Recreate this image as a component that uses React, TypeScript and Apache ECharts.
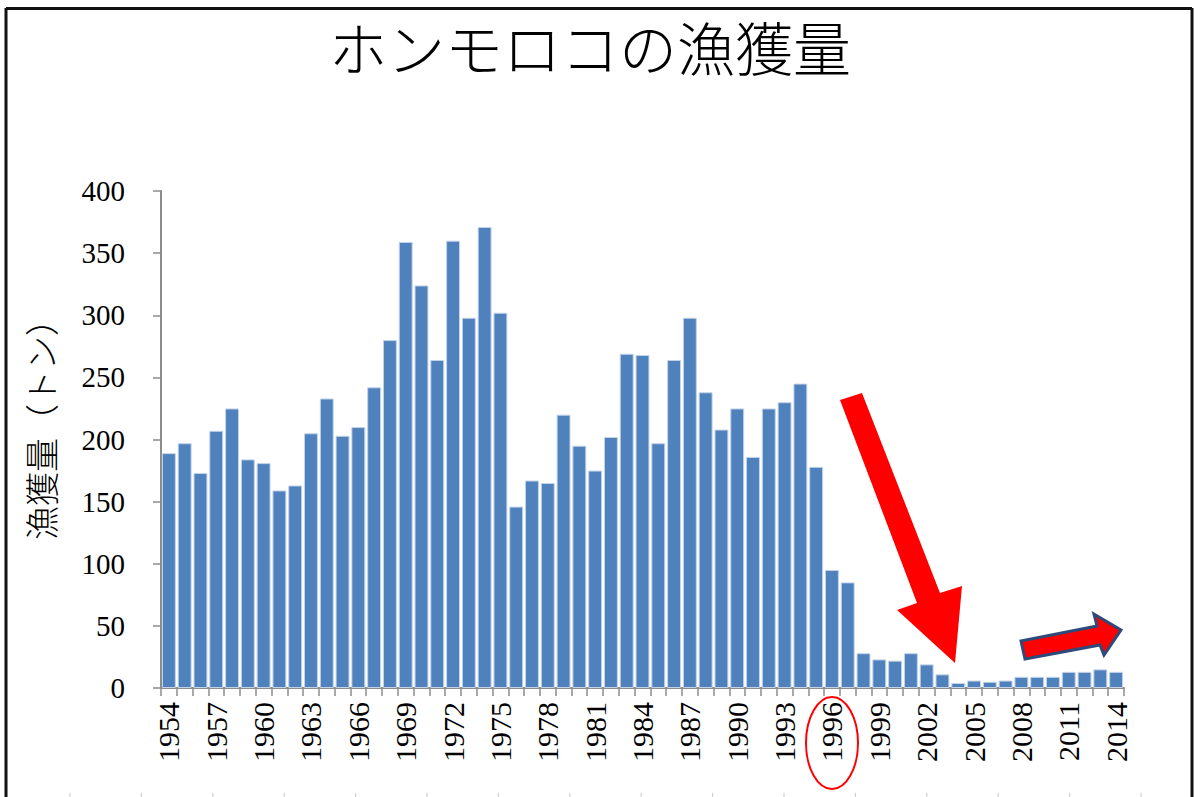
import React, { useEffect, useRef } from "react";
import * as echarts from "echarts";

const years: string[] = [
  "1954", "1955", "1956", "1957", "1958", "1959", "1960", "1961", "1962", "1963",
  "1964", "1965", "1966", "1967", "1968", "1969", "1970", "1971", "1972", "1973",
  "1974", "1975", "1976", "1977", "1978", "1979", "1980", "1981", "1982", "1983",
  "1984", "1985", "1986", "1987", "1988", "1989", "1990", "1991", "1992", "1993",
  "1994", "1995", "1996", "1997", "1998", "1999", "2000", "2001", "2002", "2003",
  "2004", "2005", "2006", "2007", "2008", "2009", "2010", "2011", "2012", "2013",
  "2014",
];

const catch_tons: number[] = [
  189, 197, 173, 207, 225, 184, 181, 159, 163, 205,
  233, 203, 210, 242, 280, 359, 324, 264, 360, 298,
  371, 302, 146, 167, 165, 220, 195, 175, 202, 269,
  268, 197, 264, 298, 238, 208, 225, 186, 225, 230,
  245, 178, 95, 85, 28, 23, 22, 28, 19, 11,
  4, 6, 5, 6, 9, 9, 9, 13, 13, 15,
  13,
];

const titleText = "ホンモロコの漁獲量";
const yAxisName = "漁獲量（トン）";

export default function App() {
  const ref = useRef<HTMLDivElement>(null);

  useEffect(() => {
    if (!ref.current) return;
    const chart = echarts.init(ref.current, undefined, { renderer: "svg" });

    const bottomTicks: any[] = [];
    for (let k = 0; k < 17; k++) {
      const x = 70 + 71.4 * k;
      bottomTicks.push({
        type: "line",
        shape: { x1: x, y1: 793, x2: x, y2: 797 },
        style: { stroke: "#c8c8c8", lineWidth: 1 },
        silent: true,
      });
    }

    chart.setOption({
      animation: false,
      backgroundColor: "#ffffff",
      grid: { left: 161, top: 191, width: 963, height: 497, containLabel: false },
      xAxis: {
        type: "category",
        data: years,
        boundaryGap: true,
        axisLine: { show: true, lineStyle: { color: "#8c8c8c", width: 2 } },
        axisTick: { show: true, interval: 0, length: 8, lineStyle: { color: "#8c8c8c", width: 1.5 } },
        axisLabel: {
          interval: 2,
          rotate: 90,
          margin: 14,
          fontFamily: "Liberation Serif",
          fontSize: 30,
          color: "#000000",
        },
        splitLine: { show: false },
      },
      yAxis: {
        type: "value",
        min: 0,
        max: 400,
        interval: 50,
        axisLine: { show: true, lineStyle: { color: "#8c8c8c", width: 2 } },
        axisTick: { show: true, length: 8, lineStyle: { color: "#8c8c8c", width: 1.5 } },
        axisLabel: {
          margin: 36,
          fontFamily: "Liberation Serif",
          fontSize: 29,
          color: "#000000",
        },
        splitLine: { show: false },
      },
      series: [
        {
          type: "bar",
          data: catch_tons,
          barCategoryGap: "12%",
          itemStyle: { color: "#4F81BD", borderColor: "#c3d3e8", borderWidth: 1 },
        },
      ],
      graphic: [
        {
          type: "line",
          shape: { x1: 6, y1: 8.5, x2: 1192, y2: 8.5 },
          style: { stroke: "#111111", lineWidth: 3 },
        },
        {
          type: "line",
          shape: { x1: 6, y1: 8, x2: 6, y2: 797 },
          style: { stroke: "#111111", lineWidth: 3 },
        },
        {
          type: "line",
          shape: { x1: 1192, y1: 8, x2: 1192, y2: 797 },
          style: { stroke: "#111111", lineWidth: 3 },
        },
        ...bottomTicks,
        {
          type: "text",
          x: 590,
          y: 46,
          style: {
            text: titleText,
            fontFamily: "Noto Sans CJK JP",
            fontWeight: 300,
            fontSize: 58,
            fill: "#000000",
            textAlign: "center",
            textVerticalAlign: "middle",
          },
        },
        {
          type: "text",
          x: 40,
          y: 421,
          rotation: Math.PI / 2,
          style: {
            text: yAxisName,
            fontFamily: "Noto Sans CJK JP",
            fontWeight: 300,
            fontSize: 34,
            fill: "#000000",
            textAlign: "center",
            textVerticalAlign: "middle",
          },
        },
        {
          type: "ellipse",
          shape: { cx: 832, cy: 743, rx: 26, ry: 46 },
          style: { fill: "none", stroke: "#ff0000", lineWidth: 2 },
        },
        {
          type: "polygon",
          shape: {
            points: [
              [840, 400],
              [862, 393],
              [940, 593],
              [962, 586],
              [955, 663],
              [897, 610],
              [917, 603],
            ],
          },
          style: { fill: "#ff0000", stroke: "none" },
        },
        {
          type: "polygon",
          shape: {
            points: [
              [1021, 641],
              [1097, 626],
              [1094, 614],
              [1121, 630],
              [1104, 655],
              [1100, 645],
              [1025, 659],
            ],
          },
          style: { fill: "#ff0000", stroke: "#2E4A7A", lineWidth: 3, lineJoin: "miter" },
        },
      ],
    });

    return () => {
      chart.dispose();
    };
  }, []);

  return (
    <div
      ref={ref}
      style={{ position: "fixed", left: 0, top: 0, width: 1200, height: 797, background: "#fff" }}
    />
  );
}
